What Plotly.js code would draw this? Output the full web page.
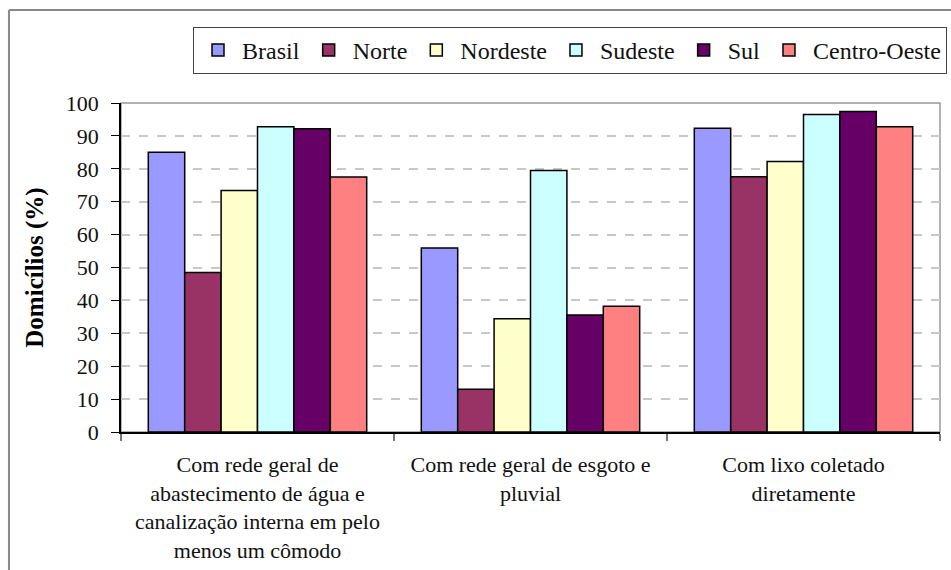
<!DOCTYPE html>
<html>
<head>
<meta charset="utf-8">
<script src="https://cdn.plot.ly/plotly-3.0.1.min.js"></script>
<style>html,body{margin:0;padding:0;background:#fff;}#chart{width:951px;height:570px;}</style>
</head>
<body>
<div id="chart"></div>
<script>
const categories = [
  "Com rede geral de<br>abastecimento de água e<br>canalização interna em pelo<br>menos um cômodo",
  "Com rede geral de esgoto e<br>pluvial",
  "Com lixo coletado<br>diretamente"
];
const regions = ["Brasil", "Norte", "Nordeste", "Sudeste", "Sul", "Centro-Oeste"];
const brasil = [85.0, 55.9, 92.3];
const norte = [48.5, 13.0, 77.6];
const nordeste = [73.4, 34.4, 82.2];
const sudeste = [92.8, 79.5, 96.5];
const sul = [92.2, 35.6, 97.4];
const centroOeste = [77.5, 38.2, 92.8];
const yTicks = [0, 10, 20, 30, 40, 50, 60, 70, 80, 90, 100];

const series = [brasil, norte, nordeste, sudeste, sul, centroOeste];
const colors = ["#9999FF", "#993366", "#FFFFCC", "#CCFFFF", "#660066", "#FF8080"];
const serif = "Liberation Serif";

const traces = regions.map((name, i) => ({
  type: "bar",
  name: name,
  x: categories,
  y: series[i],
  marker: { color: colors[i], line: { color: "#000", width: 1.5 } },
  hoverinfo: "y+name"
}));

const layout = {
  width: 951,
  height: 570,
  margin: { l: 121, r: 11, t: 103, b: 138 },
  paper_bgcolor: "#fff",
  plot_bgcolor: "#fff",
  barmode: "group",
  bargap: 0.2,
  bargroupgap: 0,
  font: { family: serif, color: "#111" },
  showlegend: true,
  legend: {
    orientation: "h",
    xref: "container",
    yref: "container",
    x: 0.9958,
    xanchor: "right",
    y: 0.953,
    yanchor: "top",
    itemwidth: 38,
    font: { family: serif, size: 24, color: "#111" },
    bordercolor: "#444",
    borderwidth: 1,
    bgcolor: "#fff",
    itemclick: false
  },
  xaxis: {
    type: "category",
    tickson: "boundaries",
    ticks: "outside",
    ticklen: 7,
    tickcolor: "#777",
    tickwidth: 1.5,
    showline: true,
    linecolor: "#000",
    linewidth: 1.5,
    showgrid: false,
    ticklabelstandoff: 12,
    tickfont: { family: serif, size: 22, color: "#111" }
  },
  yaxis: {
    range: [0, 100],
    tickvals: yTicks,
    ticktext: yTicks.map(String),
    ticks: "outside",
    ticklen: 8,
    tickcolor: "#000",
    tickwidth: 1.2,
    showline: true,
    linecolor: "#000",
    linewidth: 1.5,
    showgrid: true,
    gridcolor: "#c8c8c8",
    griddash: "dash",
    gridwidth: 1.5,
    zeroline: false,
    ticklabelstandoff: 8,
    tickfont: { family: serif, size: 22, color: "#111" },
    title: { text: "<b>Domicílios (%)</b>", font: { family: serif, size: 25, color: "#000" }, standoff: 15 }
  },
  shapes: [
    { type: "rect", xref: "paper", yref: "paper", x0: 0, x1: 1, y0: 0, y1: 1,
      line: { color: "#999", width: 1.5 }, layer: "below" },
    { type: "line", xref: "paper", yref: "paper", x0: -0.1368, x1: 1.02, y0: 1.2827, y1: 1.2827,
      line: { color: "#888", width: 2 } },
    { type: "line", xref: "paper", yref: "paper", x0: -0.1368, x1: -0.1368, y0: 1.2827, y1: -0.45,
      line: { color: "#888", width: 2 } }
  ]
};

Plotly.newPlot("chart", traces, layout, { displayModeBar: false });
</script>
</body>
</html>
